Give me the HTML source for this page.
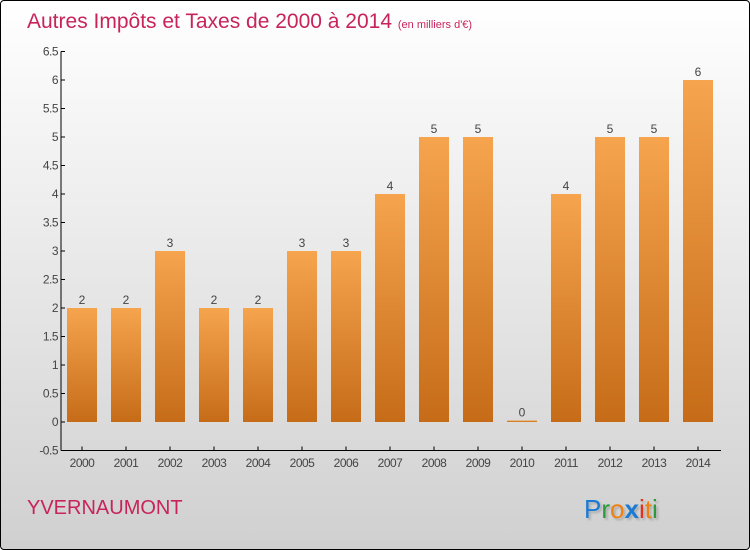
<!DOCTYPE html>
<html><head><meta charset="utf-8"><style>
body{margin:0}
#c{width:748px;height:548px;border:1px solid #000;border-radius:4px;background:linear-gradient(#fff,#d0d0d0);position:relative;overflow:hidden;font-family:"Liberation Sans",sans-serif}
</style></head><body>
<div id="c">
<svg width="748" height="548" xmlns="http://www.w3.org/2000/svg" id="svg">
<defs><linearGradient id="bg" x1="0" y1="0" x2="0" y2="1"><stop offset="0" stop-color="#f6a44e"/><stop offset="1" stop-color="#c66c18"/></linearGradient></defs>
<text x="26" y="27" font-size="21" fill="#c8245a">Autres Impôts et Taxes de 2000 à 2014 <tspan font-size="11">(en milliers d'€)</tspan></text>
<g id="axes"></g><g id="bars"></g>
<text x="26" y="513" font-size="20" fill="#c8245a">YVERNAUMONT</text>
<text x="583" y="517" font-size="26" style="text-shadow:2px 2px 2px #aaa"><tspan fill="#1a7ad4">P</tspan><tspan fill="#2a9a3a">r</tspan><tspan fill="#f08010">o</tspan><tspan fill="#1a7ad4" font-weight="bold">x</tspan><tspan fill="#e03020">i</tspan><tspan fill="#f08010">t</tspan><tspan fill="#2a9a3a">i</tspan></text>
</svg></div>
<script>
const years=["2000","2001","2002","2003","2004","2005","2006","2007","2008","2009","2010","2011","2012","2013","2014"];
const values=[2,2,3,2,2,3,3,4,5,5,0,4,5,5,6];
const yTicks=[-0.5,0,0.5,1,1.5,2,2.5,3,3.5,4,4.5,5,5.5,6,6.5];
const NS="http://www.w3.org/2000/svg";
const y=v=>421-v*57, x=i=>81+44*i;
function mk(t,a,p,txt){const e=document.createElementNS(NS,t);for(const k in a)e.setAttribute(k,a[k]);if(txt!==undefined)e.textContent=txt;p.appendChild(e);return e;}
const ax=document.getElementById('axes'),bs=document.getElementById('bars');
let l=mk('line',{x1:60,y1:y(6.5),x2:60,y2:y(-0.5),stroke:'#000'},ax);


l=mk('line',{x1:60,y1:y(-0.5),x2:720,y2:y(-0.5),stroke:'#000'},ax);


yTicks.forEach(v=>{mk('line',{x1:60,y1:y(v),x2:64,y2:y(v),stroke:'#000'},ax);
const t=mk('text',{x:57,y:y(v)+4,'font-size':12,fill:'#444','text-anchor':'end','letter-spacing':'-0.5'},ax,String(v));

});
years.forEach((yr,i)=>{const cx=x(i);
mk('line',{x1:cx,y1:y(-0.5),x2:cx,y2:y(-0.5)-4,stroke:'#000'},ax);
const t=mk('text',{x:cx,y:466,'font-size':12,fill:'#444','text-anchor':'middle','letter-spacing':'-0.5'},ax,yr);


const v=values[i],top=y(v),h=Math.max(y(0)-top,1.5);
const r=mk('rect',{x:cx-15,y:Math.min(top,y(0)-1.5),width:30,height:h,fill:'url(#bg)'},bs);


const lb=mk('text',{x:cx,y:Math.min(top,y(0)-1.5)-4,'font-size':12,fill:'#444','text-anchor':'middle'},bs,String(v));

});
</script>
</body></html>
